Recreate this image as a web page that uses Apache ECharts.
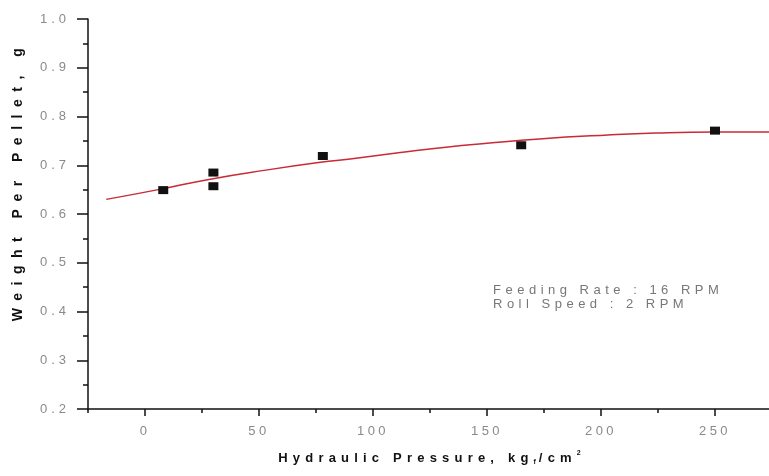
<!DOCTYPE html>
<html>
<head>
<meta charset="utf-8">
<script src="https://cdn.jsdelivr.net/npm/echarts@6/dist/echarts.min.js"></script>
<style>
html,body{margin:0;padding:0;background:#fff;}
#chart{width:769px;height:476px;}
</style>
</head>
<body>
<div id="chart"></div>
<script>
// Canvas letter spacing: a dummy fallback family "lsN_M" encodes N.M px spacing
(function () {
  var P = CanvasRenderingContext2D.prototype;
  var d = Object.getOwnPropertyDescriptor(P, 'font');
  if (!d || !('letterSpacing' in P)) return;
  Object.defineProperty(P, 'font', {
    configurable: true,
    enumerable: d.enumerable,
    get: function () { return d.get.call(this); },
    set: function (v) {
      d.set.call(this, v);
      var m = /ls(\d+)(?:_(\d+))?/.exec(v);
      this.letterSpacing = m ? (m[1] + (m[2] ? '.' + m[2] : '')) + 'px' : '0px';
    }
  });
})();

// ---- data ----
var pressure = [8, 30, 30, 78, 165, 250];
var weight = [0.649, 0.685, 0.657, 0.719, 0.741, 0.771];

var fitPressure = [-17, 7, 28, 53, 77, 90, 112, 132, 150, 173, 203, 224, 250, 275];
var fitWeight = [0.630, 0.651, 0.671, 0.690, 0.706, 0.713, 0.726, 0.737, 0.745, 0.754, 0.762, 0.766, 0.768, 0.768];

var xMajorTicks = [0, 50, 100, 150, 200, 250];
var annotationLines = ['Feeding Rate : 16 RPM', 'Roll Speed : 2 RPM'];

var chart = echarts.init(document.getElementById('chart'), null, { renderer: 'canvas' });

var axisColor = '#111';
var labelColor = '#8a8a8a';

chart.setOption({
  animation: false,
  backgroundColor: '#fff',
  grid: { left: 88, right: -3, top: 19, bottom: 67, containLabel: false, outerBoundsMode: 'none' },
  xAxis: [
    {
      type: 'value',
      position: 'bottom',
      min: -25,
      max: 275,
      axisLine: { show: true, onZero: false, lineStyle: { color: axisColor, width: 1.5 } },
      axisTick: { show: true, length: 7, customValues: xMajorTicks, lineStyle: { color: axisColor, width: 1.5 } },
      axisLabel: {
        customValues: xMajorTicks,
        color: labelColor, fontSize: 13, margin: 14,
        fontFamily: "'Liberation Sans', ls3_5"
      },
      splitLine: { show: false },
      name: 'Hydraulic Pressure, kg{sub|f}/cm{sup|2}',
      nameLocation: 'middle',
      nameGap: 40,
      nameTextStyle: {
        color: '#111', fontSize: 13, fontWeight: 'bold',
        fontFamily: "'Liberation Sans', ls5_2",
        rich: {
          sub: { fontSize: 7, fontWeight: 'bold', color: '#111', verticalAlign: 'bottom', padding: [8, 0, 0, 0], fontFamily: "'Liberation Sans', ls3" },
          sup: { fontSize: 7, fontWeight: 'bold', color: '#111', verticalAlign: 'top', padding: [0, 0, 6, 0], fontFamily: "'Liberation Sans', ls1" }
        }
      }
    },
    {
      type: 'value',
      position: 'bottom',
      min: -25,
      max: 275,
      interval: 25,
      axisLine: { show: false, onZero: false },
      axisTick: { show: true, length: 4, lineStyle: { color: axisColor, width: 1.5 } },
      axisLabel: { show: false },
      splitLine: { show: false }
    }
  ],
  yAxis: {
    type: 'value',
    min: 0.2,
    max: 1.0,
    interval: 0.1,
    axisLine: { show: true, onZero: false, lineStyle: { color: axisColor, width: 1.5 } },
    axisTick: { show: true, length: 11, lineStyle: { color: axisColor, width: 1.5 } },
    minorTick: { show: true, splitNumber: 2, length: 5, lineStyle: { color: axisColor, width: 1.5 } },
    axisLabel: {
      formatter: function (v) { return v.toFixed(1); },
      color: labelColor, fontSize: 13, margin: 18,
      fontFamily: "'Liberation Sans', ls4"
    },
    splitLine: { show: false },
    minorSplitLine: { show: false },
    name: 'Weight Per Pellet, g',
    nameLocation: 'middle',
    nameRotate: 90,
    nameGap: 56,
    nameTextStyle: {
      color: '#111', fontSize: 14, fontWeight: 'bold',
      fontFamily: "'Liberation Sans', ls7_5",
      padding: [0, 0, 0, 66]
    }
  },
  graphic: [
    {
      type: 'text',
      left: 493,
      top: 282,
      style: {
        text: annotationLines.join('\n'),
        fill: '#777',
        fontSize: 13,
        lineHeight: 14,
        fontFamily: "'Liberation Sans', ls4_5"
      }
    }
  ],
  series: [
    {
      type: 'line',
      xAxisIndex: 0,
      data: fitPressure.map(function (x, i) { return [x, fitWeight[i]]; }),
      smooth: true,
      showSymbol: false,
      lineStyle: { color: '#c92a36', width: 1.5 },
      z: 2
    },
    {
      type: 'scatter',
      xAxisIndex: 0,
      data: pressure.map(function (x, i) { return [x, weight[i]]; }),
      symbol: 'rect',
      symbolSize: [10, 8],
      itemStyle: { color: '#111', opacity: 1 },
      z: 3
    }
  ]
});
</script>
</body>
</html>
